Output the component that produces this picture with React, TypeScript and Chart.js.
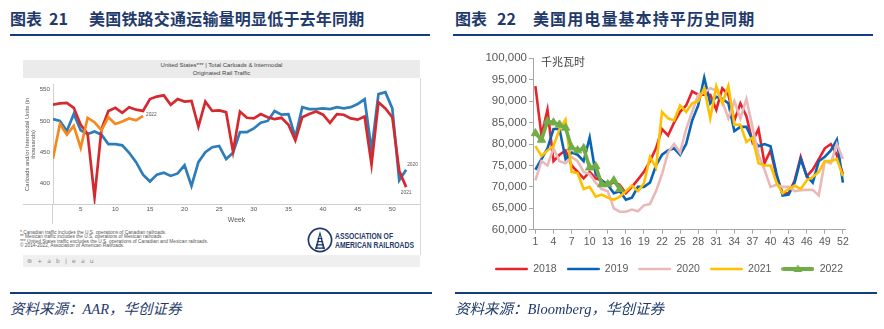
import React, { useEffect, useRef } from "react";
import { Chart, registerables } from "chart.js";

Chart.register(...registerables);

// ---------------- Left panel: AAR weekly rail traffic (thousands of units) ----------------
const railWeeks = [1, 2, 3, 4, 5, 6, 7, 8, 9, 10, 11, 12, 13, 14, 15, 16, 17, 18, 19, 20, 21, 22, 23, 24, 25, 26, 27, 28, 29, 30, 31, 32, 33, 34, 35, 36, 37, 38, 39, 40, 41, 42, 43, 44, 45, 46, 47, 48, 49, 50, 51, 52];
const rail2020 = [503, 500, 484, 511, 485, 479, 483, 478, 463, 463, 461, 449, 434, 414, 403, 414, 417, 412, 416, 429, 396, 434, 450, 458, 460, 439, 449, 482, 482, 488, 497, 500, 516, 510, 511, 474, 522, 519, 519, 520, 519, 522, 520, 522, 527, 535, 453, 543, 546, 520, 405, 422];
const rail2021 = [526, 528, 529, 521, 494, 479, 378, 487, 516, 521, 513, 522, 518, 516, 535, 539, 541, 526, 535, 531, 532, 491, 531, 516, 517, 514, 451, 515, 505, 504, 511, 506, 503, 505, 494, 469, 506, 511, 515, 510, 497, 511, 510, 504, 502, 507, 430, 530, 520, 506, 420, 394];
const rail2022 = [440, 495, 478, 492, 457, 505, 498, 485, 506, 495, 499, 504, 501, 508];
const railXTicks = [5, 10, 15, 20, 25, 30, 35, 40, 45, 50];
const railYTicks = [400, 450, 500, 550];

// ---------------- Right panel: US weekly electricity output (GWh) ----------------
const powerWeeks = [1, 2, 3, 4, 5, 6, 7, 8, 9, 10, 11, 12, 13, 14, 15, 16, 17, 18, 19, 20, 21, 22, 23, 24, 25, 26, 27, 28, 29, 30, 31, 32, 33, 34, 35, 36, 37, 38, 39, 40, 41, 42, 43, 44, 45, 46, 47, 48, 49, 50, 51, 52];
const power2018 = [93500, 82000, 88000, 76000, 77500, 78500, 75000, 73500, 72000, 73500, 72000, 71500, 70500, 71000, 70500, 68500, 70000, 71700, 73500, 76000, 79000, 83500, 82000, 85000, 87500, 89000, 92300, 91500, 91500, 91500, 88000, 93000, 91500, 85500, 89500, 86500, 80500, 83500, 75500, 78500, 72500, 68500, 68500, 71500, 77000, 72500, 74000, 76500, 79000, 80000, 77500, 73000];
const power2019 = [74000, 76500, 79000, 83500, 83500, 76500, 78000, 77500, 76000, 81500, 73000, 71500, 70500, 68500, 69000, 67000, 67500, 70000, 70000, 71000, 75000, 77500, 78500, 79000, 77500, 80000, 85500, 89000, 95500, 89500, 91000, 90500, 89500, 83000, 84000, 84000, 81000, 79500, 80000, 79500, 73000, 68000, 68200, 71000, 76500, 72500, 71000, 76000, 77000, 78500, 81000, 71000];
const power2020 = [71500, 76000, 75000, 79000, 76000, 75500, 77000, 76000, 73500, 73000, 71000, 69500, 69000, 65000, 64200, 64200, 64700, 64300, 65700, 66000, 69000, 73000, 78000, 80000, 78000, 83500, 87500, 91500, 92000, 93000, 92500, 90000, 86000, 90000, 86000, 90500, 84000, 77500, 74000, 70000, 70500, 70000, 70000, 69000, 69200, 69300, 69300, 68000, 76000, 75500, 80000, 76500];
const power2021 = [79500, 77200, 78500, 79500, 83500, 85700, 73500, 73200, 69500, 70000, 67700, 68200, 67500, 67000, 67700, 69000, 70300, 69000, 70800, 77000, 74500, 87500, 86000, 85500, 89000, 87500, 89500, 90000, 93000, 86000, 93500, 89500, 93500, 84500, 84500, 80500, 81500, 75500, 75000, 75000, 71000, 68500, 69500, 70300, 69500, 71500, 72300, 73500, 76000, 76000, 76500, 72500];
const power2022 = [82500, 81000, 85300, 85000, 84500, 83800, 79200, 78500, 79000, 74500, 74800, 70600, 70600, 71500, 69500];
const powerNames = ["2018", "2019", "2020", "2021", "2022"];
const powerXTicks = [1, 4, 7, 10, 13, 16, 19, 22, 25, 28, 31, 34, 37, 40, 43, 46, 49, 52];
const powerYTicks = [60000, 65000, 70000, 75000, 80000, 85000, 90000, 95000, 100000];

const SANS = "'Liberation Sans', Arial, sans-serif";
const CJK = "'Noto Sans CJK SC', 'Noto Sans', sans-serif";
const NAVY = "#1F3A6B";
const RULE = "#153E7E";

function toPoints(xs: number[], ys: number[]) {
  return ys.map((v, i) => ({ x: xs[i], y: v }));
}

function RailChart() {
  const ref = useRef<HTMLCanvasElement>(null);
  useEffect(() => {
    const endLabels = {
      id: "railEndLabels",
      afterDatasetsDraw(chart: any) {
        const ctx = chart.ctx;
        ctx.save();
        ctx.font = `4.8px ${SANS}`;
        ctx.fillStyle = "#555";
        ctx.textBaseline = "middle";
        chart.data.datasets.forEach((ds: any, i: number) => {
          const meta = chart.getDatasetMeta(i);
          const last = meta.data[meta.data.length - 1];
          if (!last || !ds.endLabel) return;
          ctx.textAlign = ds.endLabel.align;
          ctx.fillText(ds.label, last.x + ds.endLabel.dx, last.y + ds.endLabel.dy);
        });
        ctx.restore();
      },
    };
    const tickFont = { size: 6.2, family: SANS };
    const chart = new Chart(ref.current!, {
      type: "line",
      data: {
        datasets: [
          {
            label: "2022",
            data: toPoints(railWeeks, rail2022),
            borderColor: "#F5891F",
            borderWidth: 2.7,
            pointRadius: 0,
            order: 1,
            endLabel: { dx: 3, dy: -1, align: "left" },
          } as any,
          {
            label: "2021",
            data: toPoints(railWeeks, rail2021),
            borderColor: "#D42A2F",
            borderWidth: 2.7,
            pointRadius: 0,
            order: 2,
            endLabel: { dx: 0, dy: 5.5, align: "center" },
          } as any,
          {
            label: "2020",
            data: toPoints(railWeeks, rail2020),
            borderColor: "#2D7DBA",
            borderWidth: 2.7,
            pointRadius: 0,
            order: 3,
            endLabel: { dx: 1, dy: -5, align: "left" },
          } as any,
        ],
      },
      options: {
        animation: false,
        responsive: false,
        maintainAspectRatio: false,
        events: [],
        layout: { padding: 0 },
        plugins: { legend: { display: false }, tooltip: { enabled: false } },
        scales: {
          x: {
            type: "linear",
            min: 1,
            max: 54,
            afterBuildTicks: (s: any) => {
              s.ticks = railXTicks.map((v) => ({ value: v }));
            },
            afterFit: (s: any) => {
              s.height = 22;
            },
            grid: { display: false, drawTicks: false },
            border: { display: true, color: "#d0d0d0", width: 1 },
            ticks: { font: tickFont, color: "#555", padding: 2, maxRotation: 0, autoSkip: false },
            title: { display: true, text: "Week", font: { size: 6.8, family: SANS }, color: "#555", padding: { top: 0, bottom: 1.4 } },
          },
          y: {
            min: 367,
            max: 558,
            afterBuildTicks: (s: any) => {
              s.ticks = railYTicks.map((v) => ({ value: v }));
            },
            afterFit: (s: any) => {
              s.width = 31;
            },
            grid: { display: false, drawTicks: false },
            border: { display: true, color: "#d0d0d0", width: 1 },
            ticks: { font: tickFont, color: "#555", padding: 3 },
            title: {
              display: true,
              text: ["Carloads and/or Intermodal Units (in", "thousands)"],
              font: { size: 5.8, family: SANS, lineHeight: 1.15 },
              color: "#555",
              padding: { top: 1.7, bottom: 0 },
            },
          },
        },
      } as any,
      plugins: [endLabels],
    });
    return () => chart.destroy();
  }, []);
  return (
    <canvas
      ref={ref}
      width={398}
      height={148}
      style={{ position: "absolute", left: 22, top: 78, width: 398, height: 148 }}
    />
  );
}

function legendImage(color: string, lw: number, marker: boolean) {
  const c = document.createElement("canvas");
  c.width = 33;
  c.height = 12;
  const g = c.getContext("2d")!;
  g.strokeStyle = color;
  g.lineWidth = lw;
  g.lineCap = "round";
  g.beginPath();
  g.moveTo(lw / 2, 6);
  g.lineTo(33 - lw / 2, 6);
  g.stroke();
  if (marker) {
    g.fillStyle = color;
    g.beginPath();
    g.moveTo(16.5, 1.5);
    g.lineTo(20.8, 9);
    g.lineTo(12.2, 9);
    g.closePath();
    g.fill();
  }
  return c;
}

function PowerChart() {
  const ref = useRef<HTMLCanvasElement>(null);
  useEffect(() => {
    const colors = ["#E8232B", "#0A64B6", "#E8B9B8", "#FFC000", "#70AD47"];
    const series = [power2018, power2019, power2020, power2021, power2022];
    const datasets = series.map((vals, i) => {
      const is2022 = i === 4;
      return {
        label: powerNames[i],
        data: toPoints(powerWeeks, vals),
        borderColor: colors[i],
        backgroundColor: colors[i],
        borderWidth: is2022 ? 3.6 : 2.6,
        pointRadius: is2022 ? 4.8 : 0,
        pointStyle: "triangle",
        pointBackgroundColor: colors[i],
        pointBorderColor: colors[i],
        pointBorderWidth: 1,
        order: 5 - i,
        clip: false,
      };
    });
    const images = colors.map((c, i) => legendImage(c, i === 4 ? 4 : 2.6, i === 4));
    const axisColor = "#a6a6a6";
    const tickColor = "#595959";
    const chart = new Chart(ref.current!, {
      type: "line",
      data: { datasets },
      options: {
        animation: false,
        responsive: false,
        maintainAspectRatio: false,
        events: [],
        layout: { padding: { left: 15, top: 13.3, right: 0, bottom: 10.75 } },
        plugins: {
          tooltip: { enabled: false },
          legend: {
            display: true,
            position: "bottom",
            align: "start",
            labels: {
              usePointStyle: true,
              pointStyleWidth: 33,
              padding: 10,
              color: tickColor,
              font: { size: 10.5, family: SANS },
              generateLabels: () =>
                powerNames.map((name, i) => ({
                  text: name,
                  fillStyle: colors[i],
                  strokeStyle: colors[i],
                  lineWidth: 0,
                  pointStyle: images[i],
                  hidden: false,
                  datasetIndex: i,
                  fontColor: tickColor,
                })),
            },
          },
        },
        scales: {
          x: {
            type: "linear",
            min: 0.6,
            max: 52.35,
            afterBuildTicks: (s: any) => {
              s.ticks = powerXTicks.map((v) => ({ value: v }));
            },
            afterFit: (s: any) => {
              s.height = 24;
            },
            grid: { display: true, drawOnChartArea: false, drawTicks: true, tickLength: 4, color: axisColor },
            border: { display: true, color: axisColor, width: 1 },
            ticks: { font: { size: 10.5, family: SANS }, color: tickColor, padding: 2, maxRotation: 0, autoSkip: false },
          },
          y: {
            min: 60000,
            max: 100000,
            afterBuildTicks: (s: any) => {
              s.ticks = powerYTicks.map((v) => ({ value: v }));
            },
            afterFit: (s: any) => {
              s.width = 48;
            },
            grid: { display: true, drawOnChartArea: false, drawTicks: true, tickLength: 4, color: axisColor },
            border: { display: true, color: axisColor, width: 1 },
            ticks: {
              font: { size: 11.5, family: SANS },
              color: tickColor,
              padding: 2,
              callback: (v: any) => Number(v).toLocaleString("en-US"),
            },
          },
          yRightSpace: {
            type: "linear",
            position: "right",
            display: true,
            afterFit: (s: any) => {
              s.width = 39;
            },
            grid: { display: false, drawTicks: false },
            border: { display: false },
            ticks: { display: false },
          },
        },
      } as any,
    });
    return () => chart.destroy();
  }, []);
  return (
    <canvas
      ref={ref}
      width={414}
      height={250}
      style={{ position: "absolute", left: 470, top: 45, width: 414, height: 250 }}
    />
  );
}

const abs = (s: React.CSSProperties): React.CSSProperties => ({ position: "absolute", whiteSpace: "nowrap", ...s });

function AarLogo() {
  return (
    <svg width={26} height={26} viewBox="0 0 26 26" style={abs({ left: 307, top: 227 })}>
      <circle cx={13} cy={13} r={11.6} fill="none" stroke={NAVY} strokeWidth={1.7} />
      <path d="M13 4 L8 22 L10 22 L13 8 L16 22 L18 22 Z" fill={NAVY} />
      <rect x={10.6} y={11} width={4.8} height={1.1} fill={NAVY} />
      <rect x={9.9} y={14} width={6.2} height={1.2} fill={NAVY} />
      <rect x={9.2} y={17.2} width={7.6} height={1.3} fill={NAVY} />
      <rect x={8.4} y={20.4} width={9.2} height={1.4} fill={NAVY} />
    </svg>
  );
}

export default function App() {
  const titleStyle = { fontFamily: CJK, fontWeight: 700, fontSize: 16, lineHeight: "20px", color: NAVY };
  const sourceStyle = {
    fontFamily: "'Liberation Serif', 'Noto Sans CJK SC', serif",
    fontStyle: "italic",
    fontSize: 14.5,
    lineHeight: "18px",
    color: NAVY,
  };
  return (
    <div style={{ position: "absolute", left: 0, top: 0, width: 884, height: 329, background: "#fff", overflow: "hidden" }}>
      {/* Left title */}
      <div style={abs({ ...titleStyle, left: 10, top: 8 })}>图表</div>
      <div style={abs({ ...titleStyle, left: 49, top: 8 })}>21</div>
      <div style={abs({ ...titleStyle, left: 89, top: 8, letterSpacing: "0.2px" })}>美国铁路交通运输量明显低于去年同期</div>
      <div style={abs({ left: 10, top: 34, width: 420, height: 2, background: RULE })} />

      {/* Right title */}
      <div style={abs({ ...titleStyle, left: 455, top: 8 })}>图表</div>
      <div style={abs({ ...titleStyle, left: 497, top: 8 })}>22</div>
      <div style={abs({ ...titleStyle, left: 533, top: 8, letterSpacing: "1.1px" })}>美国用电量基本持平历史同期</div>
      <div style={abs({ left: 453, top: 34, width: 420, height: 2, background: RULE })} />

      {/* Left tableau-style panel */}
      <div
        style={abs({
          left: 23,
          top: 60,
          width: 397,
          height: 18,
          background: "#ebebeb",
          fontFamily: SANS,
          fontSize: 6,
          lineHeight: "8px",
          color: "#444",
          textAlign: "center",
          paddingTop: 1,
          boxSizing: "border-box",
        })}
      >
        United States*** | Total Carloads &amp; Intermodal
        <br />
        Originated Rail Traffic
      </div>
      <div style={abs({ left: 420, top: 78, width: 1, height: 177, background: "#dadada" })} />
      <div style={abs({ left: 23, top: 204, width: 30, height: 1, background: "#d0d0d0" })} />
      <div style={abs({ left: 52, top: 204, width: 1, height: 20, background: "#d0d0d0" })} />
      <RailChart />
      <div style={abs({ left: 20, top: 231, fontFamily: SANS, fontSize: 4.8, lineHeight: "4.35px", color: "#555" })}>
        * Canadian traffic includes the U.S. operations of Canadian railroads.
        <br />
        ** Mexican traffic includes the U.S. operations of Mexican railroads.
        <br />
        *** United States traffic excludes the U.S. operations of Canadian and Mexican railroads.
        <br />© 2014-2022, Association of American Railroads.
      </div>
      <AarLogo />
      <div
        style={abs({
          left: 335,
          top: 231.5,
          fontFamily: SANS,
          fontWeight: 700,
          fontSize: 9.2,
          lineHeight: "9px",
          color: NAVY,
          transform: "scaleX(0.74)",
          transformOrigin: "left top",
        })}
      >
        ASSOCIATION OF
        <br />
        AMERICAN RAILROADS
      </div>
      <div
        style={abs({
          left: 23,
          top: 255,
          width: 397,
          height: 12,
          background: "#efefef",
          fontFamily: "'DejaVu Sans', sans-serif",
          fontSize: 6,
          lineHeight: "12px",
          color: "#8a8a8a",
          paddingLeft: 4,
          boxSizing: "border-box",
          letterSpacing: "1.6px",
        })}
      >
        ⊛ + a b | e a u
      </div>

      {/* Right chart */}
      <PowerChart />
      <div style={abs({ left: 541, top: 54, fontFamily: CJK, fontSize: 11, lineHeight: "15px", color: "#404040" })}>千兆瓦时</div>

      {/* Bottom rules and sources */}
      <div style={abs({ left: 10, top: 292, width: 422, height: 2, background: RULE })} />
      <div style={abs({ left: 455, top: 292, width: 422, height: 2, background: RULE })} />
      <div style={abs({ ...sourceStyle, left: 10, top: 300 })}>资料来源：AAR，华创证券</div>
      <div style={abs({ ...sourceStyle, left: 455, top: 300 })}>资料来源：Bloomberg，华创证券</div>
    </div>
  );
}
